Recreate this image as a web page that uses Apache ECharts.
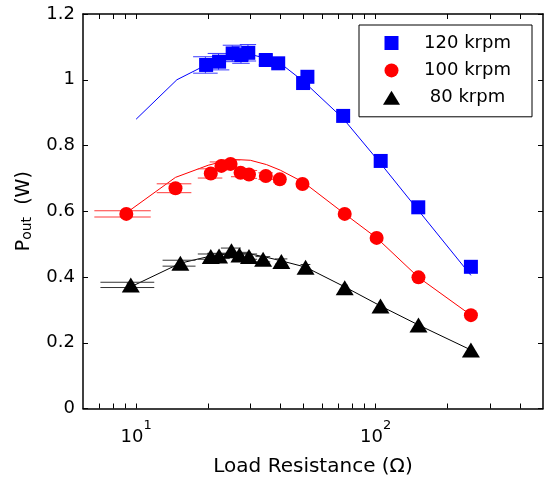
<!DOCTYPE html>
<html><head><meta charset="utf-8">
<script src="https://cdn.jsdelivr.net/npm/echarts@6/dist/echarts.min.js"></script>
<style>html,body{margin:0;padding:0;background:#fff}#c{width:546px;height:480px}</style>
</head><body><div id="c"></div>
<script>
// ---- data ----
const seriesNames = ['120 krpm', '100 krpm', '80 krpm'];

const x120 = [19.6, 22.2, 25.3, 27.5, 29.4, 34.8, 39.2, 49.8, 51.9, 73.2, 105, 150.7, 250];
const y120 = [1.045, 1.055, 1.08, 1.075, 1.082, 1.06, 1.05, 0.99, 1.009, 0.89, 0.753, 0.612, 0.431];
const e120 = [0.025, 0.025, 0.025, 0.025, 0.025, 0.015, 0.015, 0.015, 0.015, 0.01, 0.01, 0.01, 0.01];

const x100 = [9.1, 14.6, 20.5, 22.7, 24.8, 27.3, 29.6, 34.8, 39.8, 49.5, 74.3, 101, 151, 250];
const y100 = [0.592, 0.670, 0.715, 0.738, 0.744, 0.717, 0.712, 0.707, 0.697, 0.683, 0.592, 0.519, 0.399, 0.284];
const e100 = [0.0095, 0.0135, 0.014, 0.012, 0.012, 0.012, 0.012, 0.01, 0.01, 0.01, 0.01, 0.01, 0.01, 0.01];

const x80 = [9.5, 15.3, 20.5, 22.2, 25, 27, 29.6, 33.9, 40.4, 51, 74.3, 104.8, 151, 250];
const y80 = [0.376, 0.442, 0.462, 0.464, 0.48, 0.467, 0.462, 0.454, 0.447, 0.43, 0.367, 0.312, 0.254, 0.178];
const e80 = [0.008, 0.009, 0.008, 0.008, 0.008, 0.008, 0.008, 0.008, 0.008, 0.008, 0.008, 0.008, 0.008, 0.008];

const m120x = [10, 14.8, 19.6, 25, 30, 35, 40, 50, 73.2, 105, 150.7, 250];
const m120y = [0.88, 1.0, 1.045, 1.07, 1.077, 1.065, 1.05, 0.995, 0.882, 0.745, 0.603, 0.405];
const m100x = [9.1, 14.6, 20, 25, 30, 35, 40, 50, 74.3, 101, 151, 250];
const m100y = [0.595, 0.703, 0.74, 0.758, 0.755, 0.742, 0.725, 0.688, 0.592, 0.519, 0.399, 0.284];
const m80x = [9.5, 15.3, 20, 25, 30, 35, 40, 51, 74.3, 104.8, 151, 250];
const m80y = [0.37, 0.442, 0.462, 0.472, 0.47, 0.46, 0.45, 0.43, 0.37, 0.312, 0.254, 0.178];

const xLabelValues = [10, 100];
const xTickValues = [7, 8, 9, 10, 20, 30, 40, 50, 60, 70, 80, 90, 100, 200, 300, 400];
const xMin = 6, xMax = 500;
const yMin = 0, yMax = 1.2, yStep = 0.2;

const xTitle = 'Load Resistance (\u03A9)';
const yTitleMain = 'P', yTitleSub = 'out', yTitleUnit = '  (W)';

// ---- styling ----
const FONT = 'DejaVu Sans';
const colors = ['#0000ff', '#ff0000', '#000000'];
const capColors = ['#3a3aff', '#ff3a3a', '#333333'];

const pair = (xs, ys) => xs.map((x, i) => [x, ys[i]]);

function capSeries(xs, ys, es, color) {
  const tee = (Math.max(...xs) - Math.min(...xs)) / 100;
  return {
    type: 'custom', coordinateSystem: 'cartesian2d', silent: true, z: 2,
    encode: { x: 0, y: 1 },
    data: xs.map((x, i) => [x, ys[i], es[i]]),
    renderItem: (params, api) => {
      const x = api.value(0), y = api.value(1), e = api.value(2);
      const a = api.coord([x - tee, y + e]), b = api.coord([x + tee, y + e]);
      const c = api.coord([x - tee, y - e]), d = api.coord([x + tee, y - e]);
      const st = { stroke: color, lineWidth: 1 };
      return { type: 'group', children: [
        { type: 'line', shape: { x1: a[0], y1: a[1], x2: b[0], y2: b[1] }, style: st },
        { type: 'line', shape: { x1: c[0], y1: c[1], x2: d[0], y2: d[1] }, style: st },
        { type: 'line', shape: { x1: (a[0] + b[0]) / 2, y1: a[1], x2: (c[0] + d[0]) / 2, y2: c[1] }, style: st }
      ]};
    }
  };
}
function modelSeries(xs, ys, color) {
  return { type: 'line', data: pair(xs, ys), symbol: 'none', silent: true, z: 1,
    lineStyle: { color: color, width: 1 } };
}

const axisLine = { show: true, onZero: false, lineStyle: { color: '#000', width: 1.5 } };
const tickStyle = { color: '#000', width: 1 };

function xAxisDef(pos, labels) {
  return {
    type: 'log', logBase: 10, min: xMin, max: xMax, position: pos,
    axisLine: axisLine,
    axisTick: { show: true, inside: true, length: 5, lineStyle: tickStyle, customValues: xTickValues },
    axisLabel: labels ? {
      show: true, margin: 10.5, customValues: xLabelValues, color: '#000',
      fontFamily: FONT, fontSize: 18,
      formatter: v => '{b|10}{s|' + Math.round(Math.log10(v)) + '}',
      rich: {
        b: { fontFamily: FONT, fontSize: 18, lineHeight: 27, verticalAlign: 'bottom', color: '#000' },
        s: { fontFamily: FONT, fontSize: 13, lineHeight: 13, verticalAlign: 'top', color: '#000' }
      }
    } : { show: false },
    splitLine: { show: false }, minorTick: { show: false },
    name: labels ? xTitle : '', nameLocation: 'middle', nameGap: 48, nameMoveOverlap: false,
    nameTextStyle: { fontFamily: FONT, fontSize: 20, color: '#000' }
  };
}
function yAxisDef(pos, labels) {
  return {
    type: 'value', min: yMin, max: yMax, interval: yStep, position: pos,
    axisLine: axisLine,
    axisTick: { show: true, inside: true, length: 5, lineStyle: tickStyle },
    axisLabel: labels ? { show: true, margin: 8, fontFamily: FONT, fontSize: 18, color: '#000' } : { show: false },
    splitLine: { show: false },
    name: labels ? '{p|' + yTitleMain + '}{s|' + yTitleSub + '}{p|' + yTitleUnit + '}' : '',
    nameLocation: 'middle', nameGap: 49, nameMoveOverlap: false,
    nameTextStyle: labels ? {
      fontFamily: FONT, fontSize: 19, color: '#000',
      rich: {
        p: { fontFamily: FONT, fontSize: 19, lineHeight: 19, verticalAlign: 'top', color: '#000' },
        s: { fontFamily: FONT, fontSize: 14, lineHeight: 14, padding: [13, 0, 0, 0], verticalAlign: 'bottom', color: '#000' }
      }
    } : {}
  };
}

const chart = echarts.init(document.getElementById('c'), null, { renderer: 'canvas' });
chart.setOption({
  animation: false,
  backgroundColor: '#fff',
  grid: { left: 83, right: 3, top: 14, bottom: 71.5, containLabel: false, outerBoundsMode: 'none' },
  xAxis: [xAxisDef('bottom', true), xAxisDef('top', false)],
  yAxis: [yAxisDef('left', true), yAxisDef('right', false)],
  legend: {
    orient: 'vertical', left: 359, top: 25,
    padding: [9, 2, 10, 24], itemGap: 9.4, itemWidth: 17, itemHeight: 14,
    borderColor: '#000', borderWidth: 1, backgroundColor: '#fff', borderRadius: 0,
    symbolKeepAspect: true,
    data: [
      { name: seriesNames[0], icon: 'path://M0,0H10V10H0Z' },
      { name: seriesNames[1], icon: 'circle' },
      { name: seriesNames[2], icon: 'triangle' }
    ],
    formatter: n => '{c|' + n + '}',
    textStyle: {
      fontFamily: FONT, fontSize: 18, lineHeight: 18, color: '#000',
      rich: { c: { width: 125, align: 'center', fontFamily: FONT, fontSize: 18, lineHeight: 18, color: '#000' } }
    },
    selectedMode: false
  },
  series: [
    modelSeries(m120x, m120y, colors[0]),
    modelSeries(m100x, m100y, colors[1]),
    modelSeries(m80x, m80y, colors[2]),
    capSeries(x120, y120, e120, capColors[0]),
    capSeries(x100, y100, e100, capColors[1]),
    capSeries(x80, y80, e80, capColors[2]),
    { name: seriesNames[0], type: 'scatter', data: pair(x120, y120), symbol: 'rect', symbolSize: 14, z: 3,
      itemStyle: { color: colors[0], opacity: 1 } },
    { name: seriesNames[1], type: 'scatter', data: pair(x100, y100), symbol: 'circle', symbolSize: 14, z: 3,
      itemStyle: { color: colors[1], opacity: 1 } },
    { name: seriesNames[2], type: 'scatter', data: pair(x80, y80), symbol: 'triangle', symbolSize: [18, 15], z: 3,
      itemStyle: { color: colors[2], opacity: 1 } }
  ]
});
</script>
</body></html>
